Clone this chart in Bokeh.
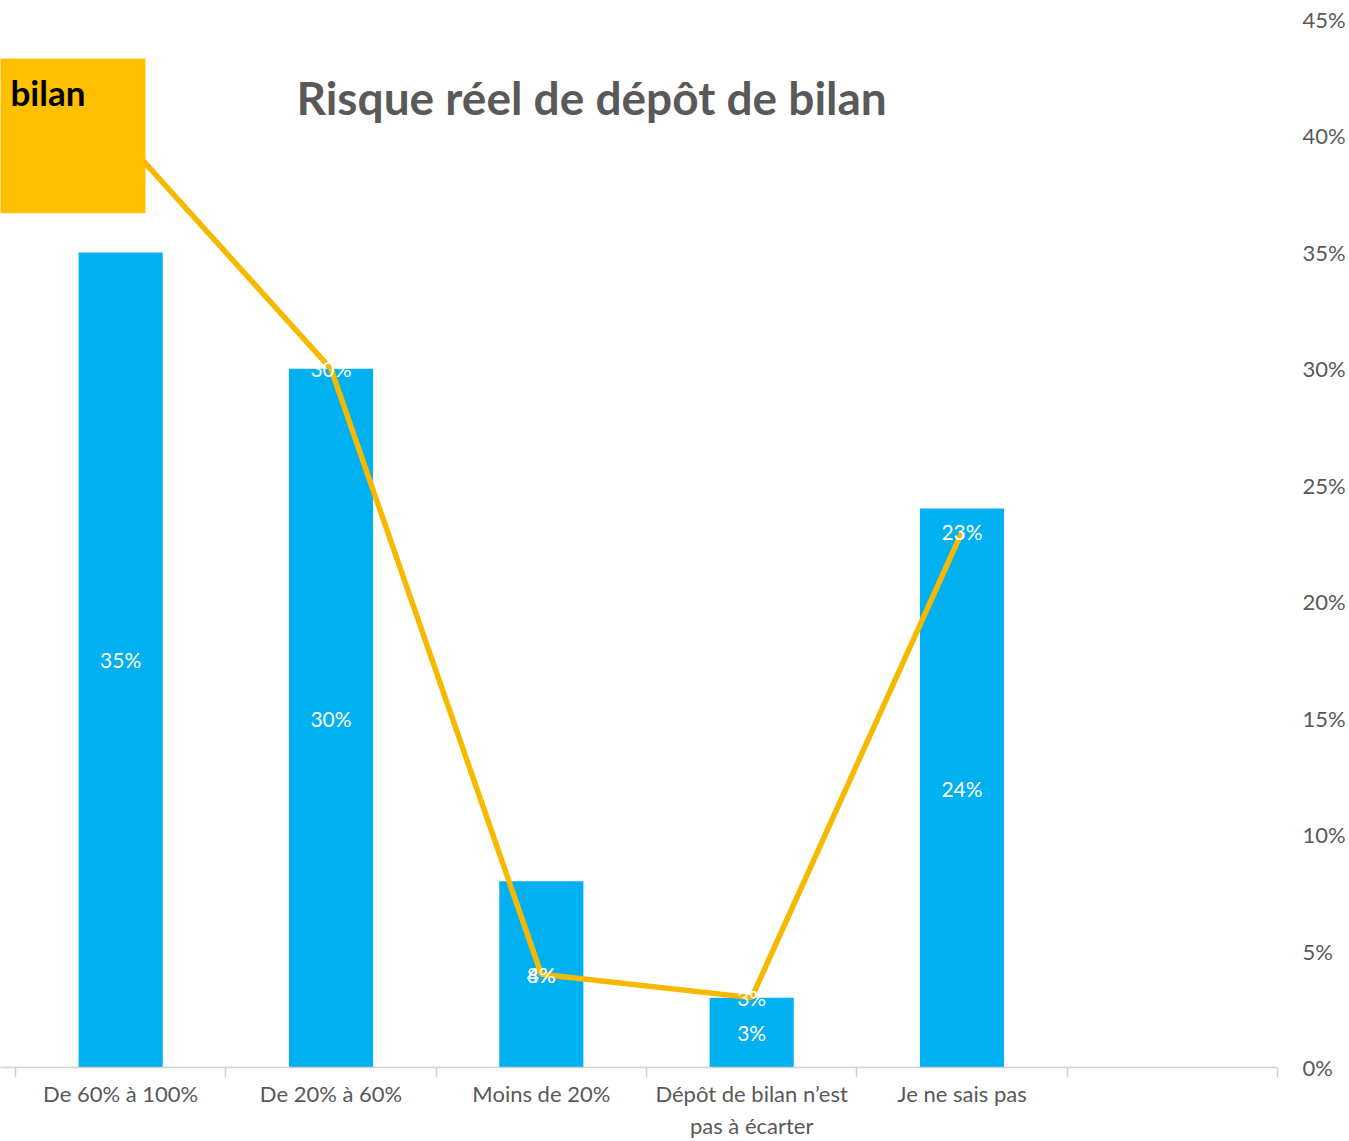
from bokeh.plotting import figure
from bokeh.models import ColumnDataSource, FixedTicker, NumeralTickFormatter, Range1d
from bokeh.core.properties import value
from bokeh.embed import file_html
from bokeh.resources import INLINE

# ---- data ----
categories = ["De 60% à 100%", "De 20% à 60%", "Moins de 20%",
              "Dépôt de bilan n’est\npas à écarter", "Je ne sais pas", ""]
bar_values = [0.35, 0.30, 0.08, 0.03, 0.24]
line_values = [0.40, 0.30, 0.04, 0.03, 0.23]
bar_labels = ["35%", "30%", "8%", "3%", "24%"]
line_labels = ["40%", "30%", "4%", "3%", "23%"]
y_ticks = [0, 0.05, 0.10, 0.15, 0.20, 0.25, 0.30, 0.35, 0.40, 0.45]
title_text = "Risque réel de dépôt de bilan"
callout_text = "bilan"

FONT = "Lato"
GRAY = "#595959"
BLUE = "#00B0F0"
GOLD = "#FFC000"
LINEC = "#F7B900"

n_slots = len(categories)
xs = [i + 0.5 for i in range(len(bar_values))]

p = figure(width=1349, height=1141, output_backend="svg", toolbar_location=None,
           x_range=Range1d(-0.0713, n_slots), y_range=Range1d(0, 0.45),
           y_axis_location="right", x_axis_location="below",
           min_border_left=0, min_border_right=72, min_border_top=19, min_border_bottom=73)
p.outline_line_color = None
p.xgrid.visible = False
p.ygrid.visible = False
p.background_fill_color = "white"
p.border_fill_color = "white"

# x axis
xa = p.xaxis[0]
xa.ticker = FixedTicker(ticks=[i + 0.5 for i in range(n_slots)],
                        minor_ticks=list(range(n_slots + 1)))
xa.major_label_overrides = {i + 0.5: c for i, c in enumerate(categories)}
xa.major_tick_line_color = None
xa.minor_tick_line_color = "#D0D0D0"
xa.minor_tick_line_width = 1.5
xa.minor_tick_out = 10
xa.minor_tick_in = 0
xa.axis_line_color = "#D0D0D0"
xa.axis_line_width = 1.5
xa.major_label_text_font = FONT
xa.major_label_text_font_size = "22px"
xa.major_label_text_color = GRAY
xa.major_label_standoff = 2

# y axis (right)
ya = p.yaxis[0]
ya.ticker = FixedTicker(ticks=y_ticks)
ya.formatter = NumeralTickFormatter(format="0%")
ya.axis_line_color = None
ya.major_tick_line_color = None
ya.minor_tick_line_color = None
ya.major_label_text_font = FONT
ya.major_label_text_font_size = "22px"
ya.major_label_text_color = GRAY
ya.major_label_standoff = 19

# bars
bsrc = ColumnDataSource(dict(x=xs, top=bar_values, mid=[v / 2 for v in bar_values], lab=bar_labels))
p.vbar(x="x", top="top", bottom=0, width=0.4, source=bsrc, fill_color=BLUE, line_color=None)
p.text(x="x", y="mid", text="lab", source=bsrc, text_align="center", text_baseline="middle",
       text_color="white", text_font=value(FONT), text_font_size="21px")

# line
lsrc = ColumnDataSource(dict(x=xs, y=line_values, lab=line_labels))
p.line(x="x", y="y", source=lsrc, line_color=LINEC, line_width=5.5)
lab_src = ColumnDataSource(dict(x=xs[1:], y=line_values[1:], lab=line_labels[1:]))
p.text(x="x", y="y", text="lab", source=lab_src, text_align="center", text_baseline="middle",
       text_color="white", text_font=value(FONT), text_font_size="21px")

# callout box (partly off the canvas)
p.quad(left=[-0.2], right=[0.618], top=[0.4333], bottom=[0.3668], fill_color=GOLD, line_color=None)
p.text(x=[-0.0238], y=[0.4187], text=[callout_text], text_align="left", text_baseline="middle",
       text_color="black", text_font=value(FONT), text_font_style="bold", text_font_size="35px")

# title
p.text(x=[2.739], y=[0.4166], text=[title_text], text_align="center", text_baseline="middle",
       text_color=GRAY, text_font=value(FONT), text_font_style="bold", text_font_size="46px")

open("out.html", "w").write(file_html(p, INLINE))
